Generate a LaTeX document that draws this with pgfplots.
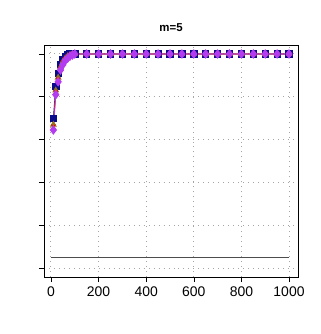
\documentclass[border=0pt]{standalone}
\usepackage{fontspec}
\setmainfont{Liberation Sans}
\usepackage{pgfplots}
\pgfplotsset{compat=1.18}
\definecolor{navyb}{RGB}{10,10,140}
\definecolor{brn}{RGB}{150,110,20}
\definecolor{purp}{RGB}{180,60,240}
\begin{document}
\begin{tikzpicture}
\useasboundingbox (-44bp,-57bp) rectangle (277bp,277bp);
\begin{axis}[
  at={(0,0)}, anchor=south west,
  scale only axis, width=254bp, height=232bp,
  xmin=-29.4, xmax=1037.8, ymin=-0.042, ymax=1.042,
  xtick={0,200,...,1000}, ytick={0,0.2,...,1.0},
  yticklabels={},
  tick align=outside, major tick length=5bp,
  xtick pos=bottom, ytick pos=left,
  grid=major, major grid style={gray!70, line width=1pt, dash pattern=on 1pt off 4pt},
  axis line style={black, line width=0.8pt},
  tick style={black, line width=0.6pt},
  /pgf/number format/assume math mode=true,
  /pgf/number format/set thousands separator={},
  xticklabel style={font=\fontsize{14}{14}\selectfont, yshift=-1bp},
  scaled x ticks=false,
  title={\bfseries m=5}, title style={font=\fontsize{11.5}{12}\selectfont, yshift=4bp},
  clip=false,
]
\addplot[gray!60!black, line width=1.2pt] coordinates {(0,0.05) (1000,0.05)};
\addplot[navyb, line width=0.8pt, mark=square*, mark size=3.2pt] coordinates {
(10,0.70) (20,0.85) (30,0.91) (40,0.95) (50,0.975) (60,0.99) (70,0.995) (80,1) (90,1) (100,1)
(150,1) (200,1) (250,1) (300,1) (350,1) (400,1) (450,1) (500,1) (550,1) (600,1) (650,1) (700,1) (750,1) (800,1) (850,1) (900,1) (950,1) (1000,1)};
\addplot[brn, line width=0.8pt, mark=triangle*, mark size=3.2pt] coordinates {
(10,0.67) (20,0.83) (30,0.89) (40,0.94) (50,0.965) (60,0.98) (70,0.99) (80,0.995) (90,1) (100,1)
(150,1) (200,1) (250,1) (300,1) (350,1) (400,1) (450,1) (500,1) (550,1) (600,1) (650,1) (700,1) (750,1) (800,1) (850,1) (900,1) (950,1) (1000,1)};
\addplot[red!90!black, line width=0.8pt, mark=x, mark size=3pt] coordinates {
(10,0.66) (20,0.82) (30,0.88) (40,0.93) (50,0.96) (60,0.975) (70,0.985) (80,0.995) (90,1) (100,1)
(150,1) (200,1) (250,1) (300,1) (350,1) (400,1) (450,1) (500,1) (550,1) (600,1) (650,1) (700,1) (750,1) (800,1) (850,1) (900,1) (950,1) (1000,1)};
\addplot[purp, line width=0.8pt, mark=diamond*, mark size=4.2pt] coordinates {
(10,0.645) (20,0.81) (30,0.87) (40,0.925) (50,0.95) (60,0.97) (70,0.98) (80,0.99) (90,0.995) (100,1)
(150,1) (200,1) (250,1) (300,1) (350,1) (400,1) (450,1) (500,1) (550,1) (600,1) (650,1) (700,1) (750,1) (800,1) (850,1) (900,1) (950,1) (1000,1)};
\end{axis}
\end{tikzpicture}
\end{document}
